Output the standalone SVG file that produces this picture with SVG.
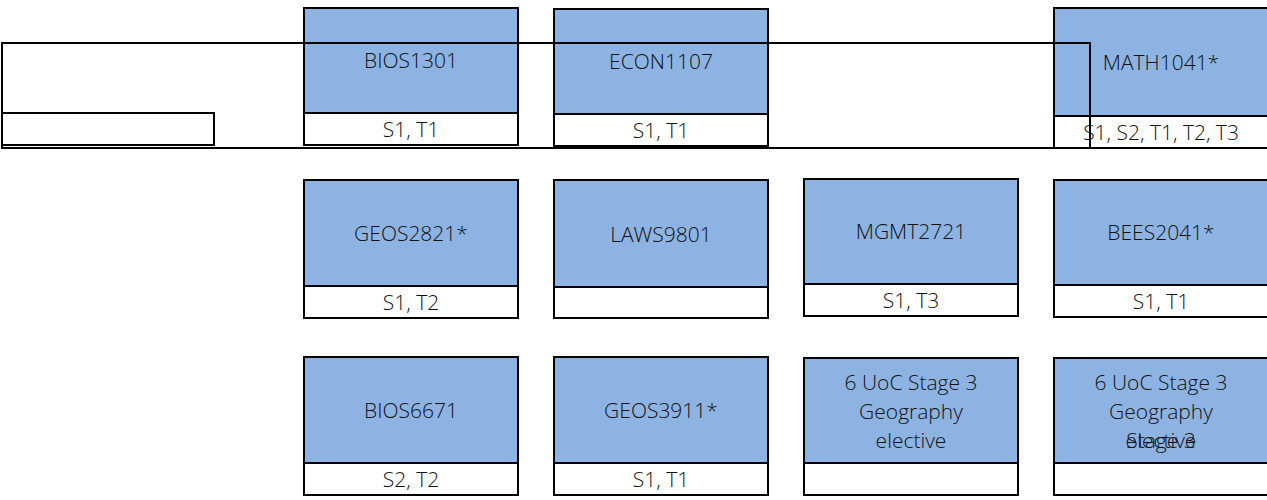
<svg xmlns="http://www.w3.org/2000/svg" width="1267" height="500" viewBox="0 0 1267 500">
<style>
.bg{fill:#ffffff}
.top{fill:#8db3e2;stroke:#000;stroke-width:2}
.bot{fill:#ffffff;stroke:#000;stroke-width:2}
.frame{fill:none;stroke:#000;stroke-width:2}
text{font-family:"Open Sans","Noto Sans","Liberation Sans",sans-serif;font-size:21px;font-weight:300;fill:#111111;text-anchor:middle;dominant-baseline:central}
</style>
<rect class="bg" x="0" y="0" width="1267" height="500"/>
<g id="nodes">
<g id="BIOS1301"><rect class="top" x="304" y="8" width="214" height="105"/><rect class="bot" x="304" y="113" width="214" height="32"/><text x="411" y="60">BIOS1301</text><text x="411" y="129">S1, T1</text></g>
<g id="ECON1107"><rect class="top" x="554" y="9" width="214" height="105"/><rect class="bot" x="554" y="114" width="214" height="32"/><text x="661" y="61">ECON1107</text><text x="661" y="130">S1, T1</text></g>
<g id="MATH1041"><rect class="top" x="1054" y="8" width="214" height="108"/><rect class="bot" x="1054" y="116" width="214" height="32"/><text x="1161" y="62">MATH1041*</text><text x="1161" y="132">S1, S2, T1, T2, T3</text></g>
<g id="GEOS2821"><rect class="top" x="304" y="180" width="214" height="106"/><rect class="bot" x="304" y="286" width="214" height="32"/><text x="411" y="233">GEOS2821*</text><text x="411" y="302">S1, T2</text></g>
<g id="LAWS9801"><rect class="top" x="554" y="180" width="214" height="107"/><rect class="bot" x="554" y="287" width="214" height="31"/><text x="661" y="234">LAWS9801</text></g>
<g id="MGMT2721"><rect class="top" x="804" y="179" width="214" height="105"/><rect class="bot" x="804" y="284" width="214" height="32"/><text x="911" y="231">MGMT2721</text><text x="911" y="300">S1, T3</text></g>
<g id="BEES2041"><rect class="top" x="1054" y="180" width="214" height="105"/><rect class="bot" x="1054" y="285" width="214" height="32"/><text x="1161" y="232">BEES2041*</text><text x="1161" y="301">S1, T1</text></g>
<g id="BIOS6671"><rect class="top" x="304" y="357" width="214" height="106"/><rect class="bot" x="304" y="463" width="214" height="32"/><text x="411" y="410">BIOS6671</text><text x="411" y="479">S2, T2</text></g>
<g id="GEOS3911"><rect class="top" x="554" y="357" width="214" height="106"/><rect class="bot" x="554" y="463" width="214" height="32"/><text x="661" y="410">GEOS3911*</text><text x="661" y="479">S1, T1</text></g>
<g id="elective1"><rect class="top" x="804" y="358" width="214" height="105"/><rect class="bot" x="804" y="463" width="214" height="32"/><text x="911" y="382">6 UoC Stage 3</text><text x="911" y="411">Geography</text><text x="911" y="440">elective</text></g>
<g id="elective2"><rect class="top" x="1054" y="358" width="214" height="105"/><rect class="bot" x="1054" y="463" width="214" height="32"/><text x="1161" y="382">6 UoC Stage 3</text><text x="1161" y="411">Geography</text><text x="1161" y="440">elective</text><text x="1161" y="440">Stage 3</text></g>
</g>
<g id="frame">
<rect class="frame" x="2" y="43" width="1088" height="105"/>
<rect class="frame" x="2" y="113" width="212" height="32"/>
</g>
<g id="connectors"/>
</svg>
